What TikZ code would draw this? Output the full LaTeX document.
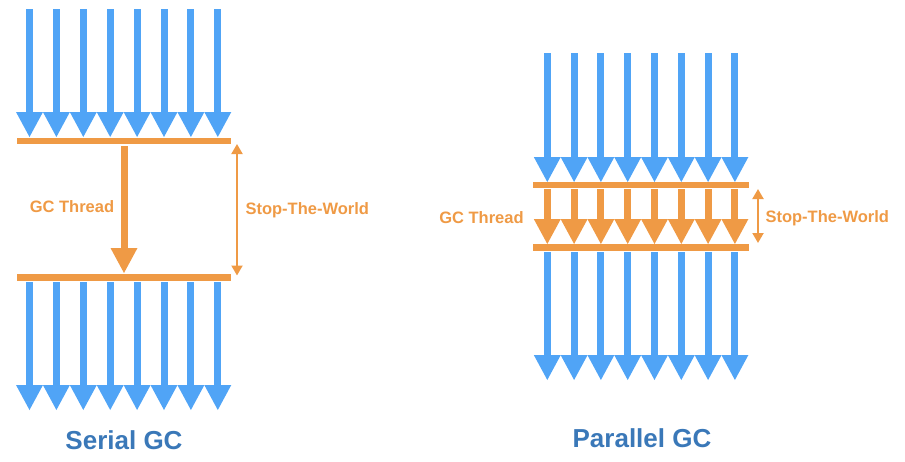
\documentclass[tikz,border=0pt]{standalone}
\usepackage{fontspec}
\setmainfont{Liberation Sans}
\usetikzlibrary{arrows.meta}
\definecolor{gcblue}{RGB}{80,164,246}
\definecolor{gcorange}{RGB}{239,154,69}
\definecolor{gctitle}{RGB}{58,120,184}
\tikzset{
 bar/.style={gcorange,line width=6.5pt},
 lbl/.style={gcorange,font=\bfseries\fontsize{16.5}{18}\selectfont},
 ttl/.style={gctitle,font=\bfseries\fontsize{26}{30}\selectfont},
 stw/.style={gcorange,line width=2pt,{Triangle[width=11pt,length=10pt]}-{Triangle[width=11pt,length=10pt]}}
}
% colour, x, y start, y tip
\newcommand{\gcarrow}[4]{%
 \fill[#1]({#2-3.5},#3) rectangle ({#2+3.5},{#4-24});
 \fill[#1]({#2-13.5},{#4-25})--({#2+13.5},{#4-25})--(#2,#4)--cycle;}
\begin{document}
\begin{tikzpicture}[x=1pt,y=-1pt]
 \useasboundingbox (0,0) rectangle (905,461);
 \foreach \i in {0,...,7}{
  \gcarrow{gcblue}{29.5+26.9*\i}{9}{137}
  \gcarrow{gcblue}{29.5+26.9*\i}{282}{410}
  \gcarrow{gcblue}{547.3+26.8*\i}{53}{182}
  \gcarrow{gcorange}{547.3+26.8*\i}{189}{244}
  \gcarrow{gcblue}{547.3+26.8*\i}{252}{380}
 }
 \gcarrow{gcorange}{124}{146}{273}
 \draw[bar](17,141)--(231,141);
 \draw[bar](17,277.5)--(231,277.5);
 \draw[bar](533,185)--(749,185);
 \draw[bar](533,247.5)--(749,247.5);
 \coordinate (stwtopL) at (237,144);
 \coordinate (stwbotL) at (237,275.5);
 \coordinate (stwtopR) at (758,189);
 \coordinate (stwbotR) at (758,243);
 \draw[stw](stwtopL)--(stwbotL);
 \draw[stw](stwtopR)--(stwbotR);
 \node[lbl] (threadL) at (72,207) {GC Thread};
 \node[lbl,anchor=west] (stwL) at (242,210.5) {Stop-The-World};
 \node[lbl] (threadR) at (481.5,218) {GC Thread};
 \node[lbl,anchor=west] (stwR) at (762,218) {Stop-The-World};
 \node[ttl] (serial) at (124,440) {Serial GC};
 \node[ttl] (parallel) at (642,438) {Parallel GC};
\end{tikzpicture}
\end{document}
